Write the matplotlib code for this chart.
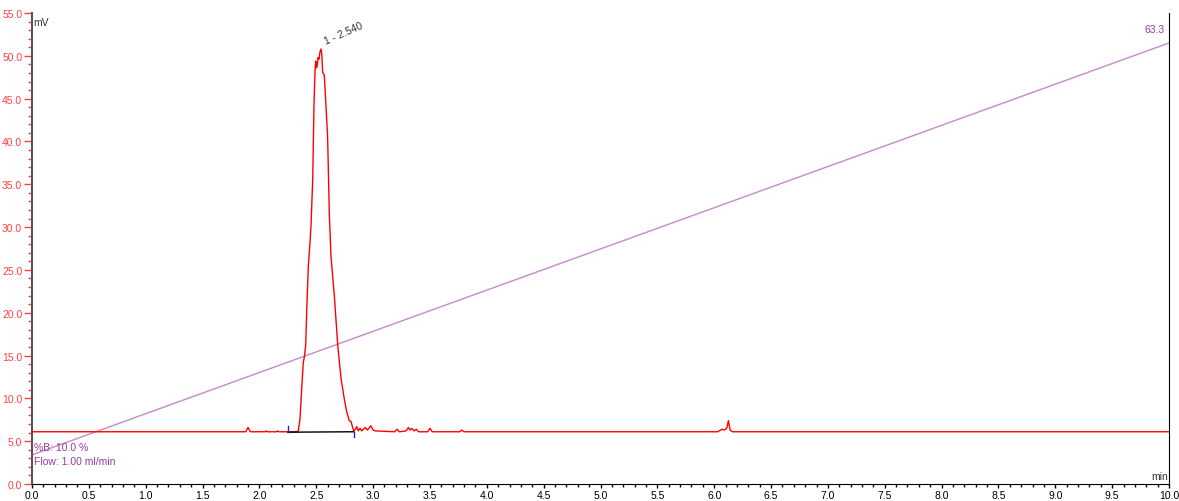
"""Chromatogram trace with gradient line (mV vs min)."""

import matplotlib.pyplot as plt
from matplotlib.ticker import MultipleLocator, FormatStrFormatter

# detector trace
time_min = [
    0.0, 1.88, 1.90, 1.92, 2.05, 2.06, 2.07, 2.15, 2.16, 2.17,
    2.33, 2.342, 2.357, 2.372, 2.386, 2.395, 2.407, 2.416, 2.43, 2.445,
    2.454, 2.469, 2.48, 2.489, 2.495, 2.502, 2.509, 2.516, 2.524, 2.532,
    2.542, 2.549, 2.556, 2.571, 2.583, 2.60, 2.615, 2.63, 2.659, 2.689,
    2.718, 2.747, 2.768, 2.78, 2.79, 2.806, 2.82, 2.83, 2.845, 2.856,
    2.87, 2.885, 2.90, 2.93, 2.95, 2.98, 3.0, 3.02, 3.19, 3.21,
    3.23, 3.29, 3.31, 3.325, 3.34, 3.36, 3.38, 3.40, 3.48, 3.50,
    3.52, 3.76, 3.78, 3.80, 6.03, 6.07, 6.09, 6.11, 6.125, 6.14,
    6.16, 10.0,
]
signal_mv = [
    6.1, 6.1, 6.6, 6.1, 6.1, 6.2, 6.1, 6.1, 6.2, 6.1,
    6.1, 6.2, 7.6, 11.1, 14.2, 14.8, 16.2, 20.1, 25.4, 28.2,
    30.2, 35.6, 44.2, 48.1, 49.4, 48.6, 48.9, 49.8, 49.6, 50.4,
    50.8, 50.2, 48.1, 47.7, 44.8, 40.5, 31.5, 26.5, 22.0, 16.2,
    12.3, 9.9, 8.4, 7.9, 7.4, 7.3, 6.6, 6.2, 6.4, 6.7,
    6.2, 6.5, 6.2, 6.6, 6.3, 6.8, 6.3, 6.2, 6.1, 6.4,
    6.1, 6.2, 6.6, 6.3, 6.5, 6.2, 6.4, 6.1, 6.1, 6.5,
    6.1, 6.1, 6.3, 6.1, 6.1, 6.4, 6.3, 6.5, 7.4, 6.3,
    6.1, 6.1,
]

# gradient (%B) line, drawn in mV units as on the instrument plot
grad_time = [0.0, 10.0]
grad_mv = [3.4, 51.5]
grad_end_label = "63.3"

peak_label = "1 - 2.540"
peak_time = 2.540
integ_start, integ_end = 2.25, 2.83
baseline_mv = 6.1

RED = "#ff0000"
TICK_RED = "#ff4040"
PURPLE_LINE = "#c888cc"
PURPLE_TEXT = "#9a3a9a"

plt.rcParams["font.family"] = ["Liberation Sans", "DejaVu Sans"]

fig = plt.figure(figsize=(11.79, 5.02), dpi=100)
ax = fig.add_axes([32 / 1179, 17 / 502, 1137 / 1179, 471 / 502])

ax.plot(grad_time, grad_mv, color=PURPLE_LINE, lw=1.0, zorder=2)
ax.plot(time_min, signal_mv, color=RED, lw=1.0, zorder=3)

# integration baseline + markers
ax.plot([integ_start, integ_end], [baseline_mv - 0.05, baseline_mv],
        color="black", lw=1.0, zorder=4)
ax.plot([integ_start, integ_start], [baseline_mv, baseline_mv + 0.7],
        color="#2020ff", lw=1.0, zorder=5)
ax.plot([integ_end, integ_end], [baseline_mv - 0.6, baseline_mv],
        color="#2020ff", lw=1.0, zorder=5)

ax.text(peak_time + 0.02, 51.2, peak_label, rotation=24, fontsize=7.5,
        color="#333333", ha="left", va="bottom")
ax.text(9.96, 52.5, grad_end_label, fontsize=7.5, color=PURPLE_TEXT,
        ha="right", va="bottom")
ax.text(0.02, 4.3, "%B: 10.0 %", fontsize=7.5, color=PURPLE_TEXT,
        ha="left", va="center")
ax.text(0.02, 2.7, "Flow: 1.00 ml/min", fontsize=7.5, color=PURPLE_TEXT,
        ha="left", va="center")
ax.text(0.01, 54.5, "mV", fontsize=7.5, color="#333333", ha="left", va="top")
ax.text(9.99, 0.3, "min", fontsize=7.5, color="#333333", ha="right",
        va="bottom")

ax.set_xlim(0, 10)
ax.set_ylim(0, 55)

ax.xaxis.set_major_locator(MultipleLocator(0.5))
ax.xaxis.set_minor_locator(MultipleLocator(0.1))
ax.xaxis.set_major_formatter(FormatStrFormatter("%.1f"))
ax.yaxis.set_major_locator(MultipleLocator(5))
ax.yaxis.set_minor_locator(MultipleLocator(1))
ax.yaxis.set_major_formatter(FormatStrFormatter("%.1f"))

ax.tick_params(axis="x", which="major", length=3, width=1, color="black",
               labelsize=7.5, labelcolor="black", pad=1)
ax.tick_params(axis="x", which="minor", length=2, width=1, color="black")
ax.tick_params(axis="y", which="major", length=6, width=1, color=TICK_RED,
               labelsize=7.5, labelcolor=TICK_RED, pad=1)
ax.tick_params(axis="y", which="minor", length=3, width=1, color=TICK_RED)

ax.spines["top"].set_visible(False)
ax.spines["left"].set_color("#555555")
ax.spines["left"].set_linewidth(1.5)
ax.spines["right"].set_color("black")
ax.spines["bottom"].set_color("black")

fig.savefig("out.png", dpi=100)
